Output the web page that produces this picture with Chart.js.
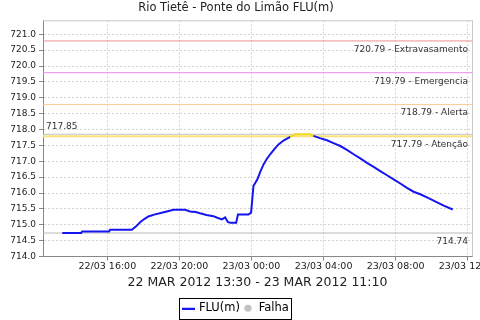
<!DOCTYPE html>
<html>
<head>
<meta charset="utf-8">
<script src="https://cdn.jsdelivr.net/npm/chart.js@4.4.1/dist/chart.umd.min.js"></script>
<style>
  html, body { margin: 0; padding: 0; background: #fff; }
  canvas { display: block; }
</style>
</head>
<body>
<canvas id="chart" width="480" height="320"></canvas>
<script>
/* Rio Tietê - Ponte do Limão, water level (FLU) over one day */

// hours counted from 22/03/2012 00:00
const times = [
  13.5, 14.55, 14.6, 16.1, 16.15, 17.36, 17.6, 17.82, 18.05, 18.28,
  18.6, 19.02, 19.3, 19.67, 20.32, 20.59, 20.9, 21.15, 21.5, 21.89,
  22.1, 22.36, 22.54, 22.69, 22.82, 23.15, 23.25, 23.83, 23.98, 24.11,
  24.33, 24.5, 24.67, 24.85, 25.04, 25.27, 25.5, 25.8, 26.15, 26.43,
  27.26, 27.44, 27.8, 28.19, 28.55, 28.93, 29.3, 29.67, 30.04, 30.41,
  30.78, 31.15, 31.52, 31.89, 32.26, 32.63, 33.0, 33.37, 33.74, 34.11,
  34.67, 35.17
];
const levels = [
  714.74, 714.74, 714.79, 714.79, 714.84, 714.84, 714.95, 715.08, 715.18, 715.26,
  715.32, 715.38, 715.42, 715.47, 715.47, 715.42, 715.40, 715.36, 715.31, 715.27,
  715.22, 715.17, 715.23, 715.09, 715.06, 715.06, 715.32, 715.32, 715.38, 716.22,
  716.43, 716.68, 716.90, 717.07, 717.22, 717.38, 717.53, 717.66, 717.77, 717.85,
  717.85, 717.80, 717.73, 717.66, 717.57, 717.48, 717.36, 717.22, 717.09, 716.95,
  716.82, 716.69, 716.56, 716.43, 716.30, 716.16, 716.04, 715.96, 715.86, 715.76,
  715.60, 715.48
];

const xTicks = [16, 20, 24, 28, 32, 36];
const thresholds = [720.79, 719.79, 718.79, 717.79];
const thresholdNames = ["Extravasamento", "Emergencia", "Alerta", "Atenção"];
const maxLevel = 717.85;
const minLevel = 714.74;

const X_MIN = 12.43, X_MAX = 36.24;
const Y_MIN = 714.0, Y_MAX = 721.44;

const lineColors = ["#f09090", "#f08af0", "#ffc890", "#f6e27a"];
const FONT = "'DejaVu Sans', sans-serif";

function fmtTime(v) {
  const day = v >= 24 ? 23 : 22;
  const h = v % 24;
  return day + "/03 " + String(h).padStart(2, "0") + ":00";
}

function flatLine(v) {
  return [{ x: X_MIN, y: v }, { x: X_MAX, y: v }];
}

// legend icons: short blue stroke and small grey dot
function lineIcon() {
  const c = document.createElement("canvas");
  c.width = 13; c.height = 3;
  const g = c.getContext("2d");
  g.fillStyle = "#1515f0";
  g.fillRect(0, 1, 13, 2);
  return c;
}
function dotIcon() {
  const c = document.createElement("canvas");
  c.width = 9; c.height = 9;
  const g = c.getContext("2d");
  g.fillStyle = "#c0c0c0";
  g.beginPath(); g.arc(4.5, 4.5, 3.6, 0, Math.PI * 2); g.fill();
  return c;
}

const datasets = [
  {
    label: "FLU(m)",
    data: times.map((t, i) => ({ x: t, y: levels[i] })),
    borderColor: "#1515f0",
    borderWidth: 2,
    pointRadius: 0,
    segment: {
      borderColor: c => (c.p0.parsed.y >= 717.75 && c.p1.parsed.y >= 717.75) ? "#f2d820" : "#1515f0",
    },
  },
  { label: "Falha", data: [], borderColor: "#c0c0c0", backgroundColor: "#c0c0c0", showLine: false },
  { label: "max", data: flatLine(maxLevel), borderColor: "#c4c4c4", borderWidth: 1, pointRadius: 0 },
  { label: "min", data: flatLine(minLevel), borderColor: "#b8b8b8", borderWidth: 1, pointRadius: 0 },
];
thresholds.forEach((v, i) => {
  datasets.push({
    label: thresholdNames[i],
    data: flatLine(v),
    borderColor: lineColors[i],
    borderWidth: i === 3 ? 2 : 1,
    pointRadius: 0,
  });
});

// threshold labels, top/right border and the legend frame
const decor = {
  id: "decor",
  afterDraw(chart) {
    const { ctx, chartArea: a } = chart;
    const y = chart.scales.y;
    ctx.save();
    ctx.strokeStyle = "#c8c8c8";
    ctx.lineWidth = 1;
    ctx.beginPath();
    ctx.moveTo(a.left, a.top + 0.5); ctx.lineTo(a.right + 0.5, a.top + 0.5);
    ctx.moveTo(a.right + 0.5, a.top); ctx.lineTo(a.right + 0.5, a.bottom);
    ctx.stroke();

    ctx.font = "9px " + FONT;
    ctx.fillStyle = "#333";
    ctx.textBaseline = "middle";
    ctx.textAlign = "right";
    thresholds.forEach((v, i) => {
      ctx.fillText(v.toFixed(2) + " - " + thresholdNames[i], a.right - 4, y.getPixelForValue(v) + 8.5);
    });
    ctx.fillText(minLevel.toFixed(2), a.right - 4, y.getPixelForValue(minLevel) + 9);
    ctx.textAlign = "left";
    ctx.fillText(maxLevel.toFixed(2), a.left + 3, y.getPixelForValue(maxLevel) - 8);

    const boxes = chart.legend.legendHitBoxes;
    if (boxes && boxes.length) {
      let l = Infinity, r = -Infinity, t = Infinity, b = -Infinity;
      for (const h of boxes) {
        l = Math.min(l, h.left); r = Math.max(r, h.left + h.width);
        t = Math.min(t, h.top); b = Math.max(b, h.top + h.height);
      }
      ctx.strokeStyle = "#000";
      ctx.strokeRect(Math.round(l) - 3.5, Math.round(t) - 4.5, Math.round(r - l) + 6, Math.round(b - t) + 9);
    }
    ctx.restore();
  },
};

const gridOpts = {
  color: "#d4d4d4",
  tickBorderDash: [],
  tickColor: "#888",
  tickLength: 4,
};

new Chart(document.getElementById("chart"), {
  type: "line",
  data: { datasets },
  plugins: [decor],
  options: {
    responsive: false,
    animation: false,
    devicePixelRatio: 1,
    layout: { padding: { left: 0, right: 8, top: 0, bottom: -4 } },
    plugins: {
      title: {
        display: true,
        text: "Rio Tietê - Ponte do Limão FLU(m)",
        color: "#222",
        font: { family: FONT, size: 11.5, weight: "normal" },
        padding: { top: 1, bottom: 5.5 },
      },
      legend: {
        position: "bottom",
        labels: {
          color: "#111",
          font: { family: FONT, size: 11.5 },
          usePointStyle: true,
          boxWidth: 10,
          boxHeight: 10,
          padding: 3,
          generateLabels: () => [
            { text: "FLU(m)", pointStyle: lineIcon(), fillStyle: "#1515f0", strokeStyle: "#1515f0", lineWidth: 0, datasetIndex: 0 },
            { text: "Falha", pointStyle: dotIcon(), fillStyle: "#c0c0c0", strokeStyle: "#c0c0c0", lineWidth: 0, datasetIndex: 1 },
          ],
        },
      },
      tooltip: { enabled: false },
    },
    scales: {
      x: {
        type: "linear",
        min: X_MIN,
        max: X_MAX,
        afterBuildTicks: s => { s.ticks = xTicks.map(v => ({ value: v })); },
        afterFit: s => { s.height = 43; s.paddingLeft = 0; s.paddingRight = 0; },
        ticks: {
          autoSkip: false,
          maxRotation: 0,
          padding: 0,
          color: "#222",
          font: { family: FONT, size: 9.5 },
          callback: v => fmtTime(v),
        },
        grid: gridOpts,
        border: { display: true, color: "#888", dash: [2, 2] },
        title: {
          display: true,
          text: "22 MAR 2012 13:30 - 23 MAR 2012 11:10",
          color: "#222",
          font: { family: FONT, size: 12.5 },
          padding: { top: 2, bottom: 9 },
        },
      },
      y: {
        min: Y_MIN,
        max: Y_MAX,
        afterBuildTicks: s => { s.ticks = s.ticks.filter(t => t.value <= 721.0001 && Math.abs(t.value * 2 - Math.round(t.value * 2)) < 1e-6); },
        afterFit: s => { s.width = 43; s.paddingTop = 0; s.paddingBottom = 0; },
        ticks: {
          stepSize: 0.5,
          padding: 3,
          color: "#222",
          font: { family: FONT, size: 9 },
          callback: v => Number(v).toFixed(1),
        },
        grid: gridOpts,
        border: { display: true, color: "#888", dash: [2, 2] },
      },
    },
  },
});
</script>
</body>
</html>
